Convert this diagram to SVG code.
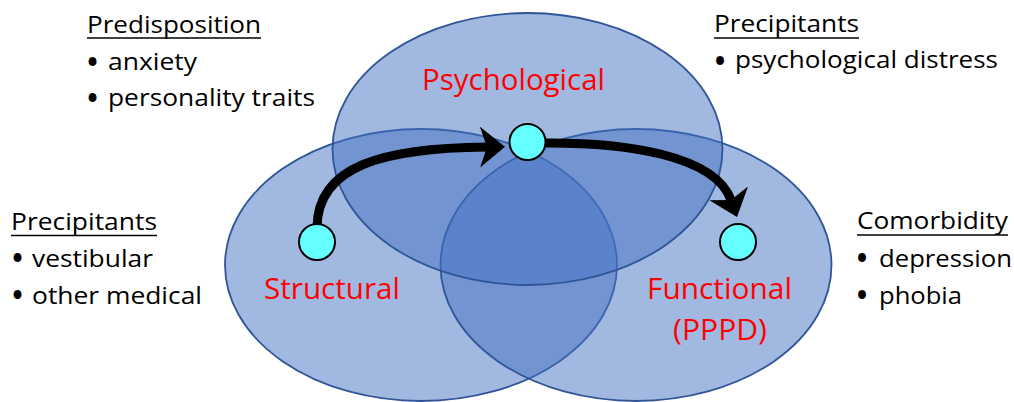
<svg xmlns="http://www.w3.org/2000/svg" width="1014" height="402" viewBox="0 0 1014 402">
<style>
.ell{fill:#4472C4;fill-opacity:0.5;stroke:#2F5597;stroke-width:1.8}
.node{fill:#66FFFF;stroke:#000;stroke-width:2}
.lbl{font-family:"Open Sans","Noto Sans",sans-serif;font-size:30px;fill:#FF0000}
.txt{font-family:"Open Sans","Noto Sans",sans-serif;font-size:24px;fill:#000}
.bul{font-family:"Open Sans","Noto Sans",sans-serif;font-size:28px;font-weight:bold;fill:#000;text-anchor:middle}
.ul{stroke:#000;stroke-width:1.6}
.conn{fill:none;stroke:#000;stroke-width:9;marker-end:url(#ah)}
</style>
<defs>
<marker id="ah" viewBox="0 -21 26 42" refX="7" refY="0" markerWidth="26" markerHeight="42" markerUnits="userSpaceOnUse" orient="auto">
<path d="M25,0 L0,-20.5 L7,0 L0,20.5 Z" fill="#000"/>
</marker>
</defs>
<g id="structural">
<ellipse class="ell" cx="421" cy="265" rx="196" ry="136"/>
</g>
<g id="functional">
<ellipse class="ell" cx="636" cy="265" rx="195.5" ry="136"/>
</g>
<g id="psychological">
<ellipse class="ell" cx="527.5" cy="149" rx="195" ry="136"/>
</g>
<g id="labels">
<text class="lbl" x="422" y="90" textLength="183" lengthAdjust="spacingAndGlyphs">Psychological</text>
<text class="lbl" x="264" y="299" textLength="136" lengthAdjust="spacingAndGlyphs">Structural</text>
<text class="lbl" x="647" y="299" textLength="145" lengthAdjust="spacingAndGlyphs">Functional</text>
<text class="lbl" x="673" y="340" textLength="94" lengthAdjust="spacingAndGlyphs">(PPPD)</text>
</g>
<g id="connectors">
<path class="conn" d="M317,228 C317,165 385,148 487,147"/>
<path class="conn" d="M540,143 C625,142 715,155 731,200"/>
</g>
<g id="node-structural"><circle class="node" cx="317" cy="242" r="18"/></g>
<g id="node-psychological"><circle class="node" cx="527.5" cy="142" r="18"/></g>
<g id="node-functional"><circle class="node" cx="738" cy="242" r="18"/></g>
<g id="predisposition">
<text class="txt" x="87" y="32.5" textLength="174" lengthAdjust="spacingAndGlyphs">Predisposition</text>
<line class="ul" x1="87" y1="38" x2="261" y2="38"/>
<text class="bul" x="92.5" y="72">•</text>
<text class="txt" x="108" y="70" textLength="89" lengthAdjust="spacingAndGlyphs">anxiety</text>
<text class="bul" x="92.5" y="108">•</text>
<text class="txt" x="108" y="106" textLength="207" lengthAdjust="spacingAndGlyphs">personality traits</text>
</g>
<g id="precipitants-left">
<text class="txt" x="11" y="230" textLength="146" lengthAdjust="spacingAndGlyphs">Precipitants</text>
<line class="ul" x1="11" y1="235.5" x2="157" y2="235.5"/>
<text class="bul" x="17.5" y="268">•</text>
<text class="txt" x="32" y="267" textLength="121" lengthAdjust="spacingAndGlyphs">vestibular</text>
<text class="bul" x="17.5" y="305">•</text>
<text class="txt" x="32" y="304" textLength="170" lengthAdjust="spacingAndGlyphs">other medical</text>
</g>
<g id="precipitants-right">
<text class="txt" x="714" y="32" textLength="145" lengthAdjust="spacingAndGlyphs">Precipitants</text>
<line class="ul" x1="714" y1="38" x2="859" y2="38"/>
<text class="bul" x="720" y="71">•</text>
<text class="txt" x="735" y="68" textLength="263" lengthAdjust="spacingAndGlyphs">psychological distress</text>
</g>
<g id="comorbidity">
<text class="txt" x="857" y="229" textLength="151" lengthAdjust="spacingAndGlyphs">Comorbidity</text>
<line class="ul" x1="857" y1="235" x2="1008" y2="235"/>
<text class="bul" x="862" y="268">•</text>
<text class="txt" x="879" y="267" textLength="133" lengthAdjust="spacingAndGlyphs">depression</text>
<text class="bul" x="862" y="305">•</text>
<text class="txt" x="879" y="304" textLength="83" lengthAdjust="spacingAndGlyphs">phobia</text>
</g>
</svg>
